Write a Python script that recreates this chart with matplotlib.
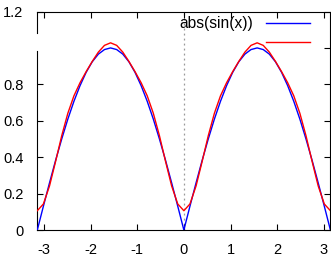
import numpy as np
import matplotlib
matplotlib.use("Agg")
import matplotlib.pyplot as plt

plt.rcParams['font.family'] = ['Liberation Sans', 'DejaVu Sans']
plt.rcParams['axes.unicode_minus'] = False

# sample grid over [-pi, pi], 49 points (step pi/24)
x = np.linspace(-np.pi, np.pi, 49)

# blue curve: abs(sin(x))
blue_y = [0.0, 0.131, 0.259, 0.383, 0.5, 0.609, 0.707, 0.793, 0.866, 0.924, 0.966, 0.991, 1.0,
          0.991, 0.966, 0.924, 0.866, 0.793, 0.707, 0.609, 0.5, 0.383, 0.259, 0.131, 0.0,
          0.131, 0.259, 0.383, 0.5, 0.609, 0.707, 0.793, 0.866, 0.924, 0.966, 0.991, 1.0,
          0.991, 0.966, 0.924, 0.866, 0.793, 0.707, 0.609, 0.5, 0.383, 0.259, 0.131, 0.0]

# red curve: approximation
red_y = [0.106, 0.143, 0.242, 0.377, 0.518, 0.641, 0.737, 0.809, 0.870, 0.926, 0.977, 1.014, 1.028,
         1.014, 0.977, 0.926, 0.870, 0.809, 0.737, 0.641, 0.518, 0.377, 0.242, 0.143, 0.106,
         0.143, 0.242, 0.377, 0.518, 0.641, 0.737, 0.809, 0.870, 0.926, 0.977, 1.014, 1.028,
         1.014, 0.977, 0.926, 0.870, 0.809, 0.737, 0.641, 0.518, 0.377, 0.242, 0.143, 0.106]

xticks = [-3, -2, -1, 0, 1, 2, 3]
yticks = [0, 0.2, 0.4, 0.6, 0.8, 1.0, 1.2]
ylabels = ['0', '0.2', '0.4', '0.6', '0.8', '', '1.2']
key_label = 'abs(sin(x))'

fig = plt.figure(figsize=(3.31, 2.58), dpi=100)
ax = fig.add_axes([0.1127, 0.1085, 0.8855, 0.8469])

ax.axvline(0, color='#999999', lw=0.9, linestyle=(0, (1.5, 2.5)), zorder=1)
ax.plot(x, blue_y, color='#0000ff', lw=1.0, zorder=3)
ax.plot(x, red_y, color='#ff0000', lw=1.0, zorder=3)

ax.set_xlim(-np.pi, np.pi)
ax.set_ylim(0, 1.2)
ax.set_xticks(xticks)
ax.set_xticklabels([str(t) for t in xticks])
ax.set_yticks(yticks)
ax.set_yticklabels(ylabels)
ax.tick_params(direction='in', top=True, right=True, length=4, width=0.8,
               labelsize=10.5, colors='black')
ax.tick_params(axis='y', pad=10)
ax.tick_params(axis='x', pad=9)
ax.yaxis.get_major_ticks()[5].tick1line.set_visible(False)

for s in ['top', 'right', 'bottom']:
    ax.spines[s].set_linewidth(0.8)
ax.spines['left'].set_visible(False)
# left border is broken near y=1
ax.plot([0, 0], [0, 0.819], transform=ax.transAxes, color='black', lw=0.8, clip_on=False)
ax.plot([0, 0], [0.902, 1], transform=ax.transAxes, color='black', lw=0.8, clip_on=False)

# key
ax.text(0.736, 0.943, key_label, transform=ax.transAxes, ha='right', va='center', fontsize=11.2)
ax.plot([0.780, 0.930], [0.946, 0.946], transform=ax.transAxes, color='#0000ff', lw=1.0)
ax.plot([0.780, 0.930], [0.859, 0.859], transform=ax.transAxes, color='#ff0000', lw=1.0)

fig.savefig('out.png', dpi=100)
